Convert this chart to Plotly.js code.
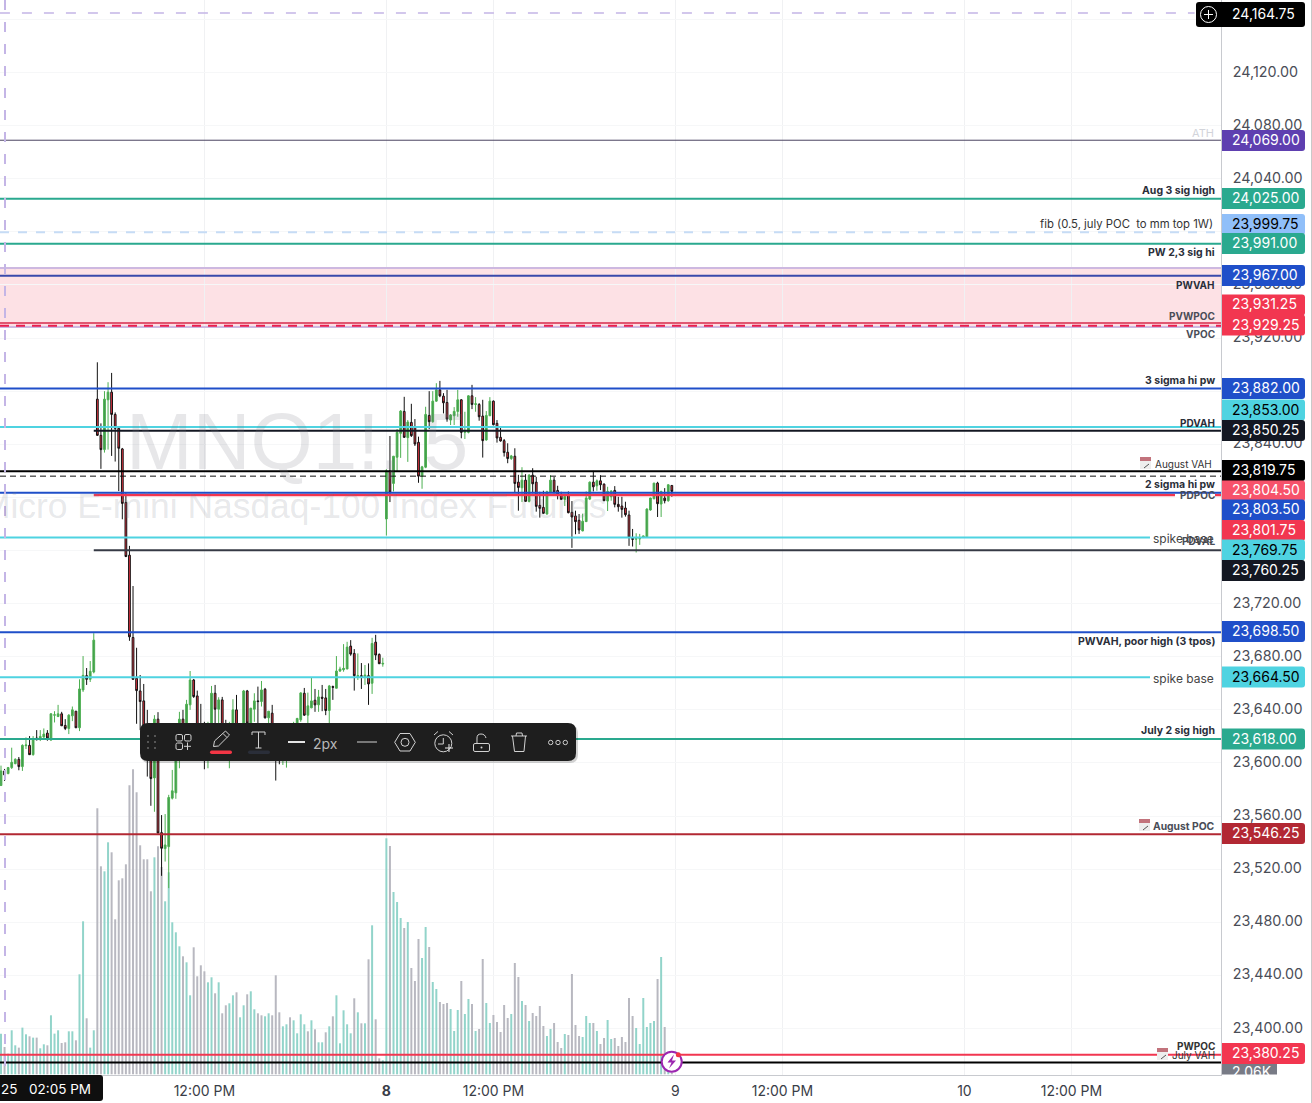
<!DOCTYPE html>
<html><head><meta charset="utf-8">
<script src="https://cdn.plot.ly/plotly-3.0.1.min.js"></script>
<style>html,body{margin:0;padding:0;background:#fff;overflow:hidden}#c{width:1312px;height:1103px}</style>
</head><body><div id="c"></div>
<script>
// ---------- data ----------
const openPrices=[23583,23594,23592,23596.5,23599.5,23602.75,23597.25,23613,23613.25,23606.25,
23618.75,23618,23619.5,23622.5,23617.25,23636,23635,23637,23628.25,23626,
23635.5,23639,23626.5,23655,23665.75,23663,23668.5,23874,23846.75,23836,
23873.5,23879.25,23862.5,23852,23836.5,23796.25,23756.5,23694.5,23663.75,23654.25,
23646.75,23628.5,23608.25,23588.75,23633,23547.5,23535.5,23537,23573.5,23577.5,
23606,23633,23628.5,23643.75,23662.5,23650.5,23628.5,23621,23613.5,23624.75,
23652.5,23640.5,23647.5,23624.75,23613.5,23618.75,23640,23617.25,23630,23654.25,
23630,23640.5,23646.75,23646.25,23655.5,23634,23637.5,23624.75,23621,23613.5,
23613.5,23624.75,23621,23621,23632.5,23652.5,23636,23641.5,23647.25,23643.75,
23649.5,23649,23639.5,23657.5,23656.25,23669.25,23670.25,23670.75,23688,23682.5,
23665,23665.75,23665,23665.75,23660,23691,23681.75,23674.5,23783.75,23820,
23810.5,23830.25,23848.25,23864.75,23845,23856.5,23852.75,23841.5,23816,23822.75,
23861.75,23857,23872.5,23881,23876.25,23871.5,23858.25,23861.5,23864.75,23873.5,
23849,23849,23876.5,23870,23870,23861.25,23843.25,23861.5,23872.5,23855.75,
23845.25,23842.75,23834,23829.25,23831,23811.5,23807.25,23813,23797,23816.75,
23811.5,23794,23792.5,23787.5,23804,23813,23805.25,23801.5,23798.5,23801.5,
23788.75,23786,23782.75,23774.75,23781.75,23798.75,23811.5,23808.75,23812.5,23810,
23797.25,23800.5,23805.25,23794.75,23793.5,23792,23786.75,23769,23768.5,23768.75,
23769.75,23770,23790.5,23799,23810.75,23795,23799.5,23797.5,23809];
const highPrices=[23598,23595.5,23597,23611.5,23603.5,23604.5,23614,23619.25,23620.25,23620.25,
23624.75,23624.75,23626,23624.75,23637.5,23639,23643.75,23638.5,23633,23636.75,
23642.5,23639,23663,23680.5,23671.5,23676.75,23697.75,23901.75,23855.75,23880,
23886.75,23893.75,23864,23852.5,23837.25,23803.25,23763.5,23733.25,23686.75,23666.25,
23659.5,23640,23621,23636,23638.25,23560.75,23561.5,23576,23594.75,23624.75,
23638.5,23640,23647.5,23669.25,23663.25,23654.5,23644.5,23631,23631,23658,
23658.75,23649.5,23649.75,23632.5,23631,23648,23651.25,23628.5,23655,23655,
23641.5,23652.5,23657.5,23661.75,23656.5,23639,23643.75,23628.5,23624.75,23626.25,
23624.75,23627,23631,23634,23653.25,23656.5,23653,23664.25,23655.75,23655,
23658.75,23655.75,23658.75,23658.25,23680.5,23672.5,23689.5,23691.25,23692.5,23685.75,
23682.5,23675.25,23673.75,23675,23694.25,23696.5,23682.5,23679.25,23821.25,23846.25,
23831.25,23851.5,23865.75,23875.75,23858.25,23870.5,23859,23845.75,23823.75,23868.25,
23880,23880,23886,23887.75,23878.5,23881,23862.75,23868,23881,23874,
23864.5,23877,23884.75,23875.5,23871,23873.5,23865,23875.5,23873,23858.25,
23852.5,23844,23840.75,23832,23837,23817,23822.75,23817.5,23817.5,23822,
23815.5,23804.25,23805,23805,23816.75,23815.5,23808.75,23804.25,23801,23804.5,
23797.25,23790,23787.5,23787.75,23804.5,23812,23820,23813.5,23816.75,23810.5,
23808,23805.5,23808.5,23800.5,23800.5,23796.75,23790,23776.25,23773,23772.5,
23771.25,23791.75,23799.75,23811,23811.75,23805,23807,23810,23809];
const lowPrices=[23583,23586.5,23591.5,23595.5,23599,23594.5,23594,23610.5,23606,23605.5,
23617,23616.5,23619,23616.75,23616.75,23630.5,23634.5,23628,23624.75,23621.75,
23631.5,23626.5,23624,23653.5,23658.75,23661,23667.5,23846.25,23821.5,23833.75,
23836,23831.25,23827,23804.75,23783.5,23755,23692,23662.5,23629.5,23624.75,
23624,23589.75,23567.75,23563.25,23547,23515,23525.75,23505.75,23572.5,23573,
23596,23608.25,23621,23640,23649,23613.5,23602.25,23595.25,23596,23609.75,
23630,23628.5,23613.5,23606,23596,23613.5,23608.25,23613.5,23628.5,23628.5,
23628,23631,23624.75,23642.5,23633.5,23628.5,23613.5,23586.75,23599,23598.5,
23596.5,23611.25,23615.75,23615.75,23631,23635.5,23630,23641.25,23638.5,23638.5,
23639,23636,23630,23647.5,23656.25,23668.5,23668.75,23670.75,23680.75,23654.5,
23662.5,23655.75,23658.75,23643.75,23652,23677.5,23674.5,23672.5,23771.25,23796.5,
23804.5,23819.5,23829.75,23844.75,23826.75,23845.5,23838.75,23811,23806.5,23822,
23851.5,23856.25,23872,23875.5,23863.25,23857,23854.5,23854.5,23860.75,23844.5,
23844,23848.25,23866.5,23864.5,23857.75,23830,23842.75,23861.25,23854.25,23841.25,
23842,23830.75,23825.75,23828.25,23803.5,23790,23796.5,23796.75,23796.25,23803,
23789.25,23784.75,23787.5,23787,23803.25,23803,23798.5,23798,23793.5,23788,
23762,23772.25,23772.5,23774.5,23781.5,23798,23804.5,23805,23805.5,23797.25,
23789.75,23797.5,23792.5,23789.25,23784.75,23785.5,23763.5,23763,23758.5,23764.25,
23769.5,23769.75,23790,23798.5,23785.25,23785.25,23795.5,23796.75,23800.5];
const closePrices=[23594,23591,23596.5,23600.5,23602.75,23597.25,23613.25,23613.5,23606.25,23618,
23617.5,23620,23621.75,23618.75,23637,23636.25,23637,23628,23626,23636,
23640,23626.5,23655.75,23666,23663,23669,23692.5,23846.75,23836,23874,
23879.25,23862.5,23852,23837,23795.5,23755.5,23695,23663,23654.5,23646.25,
23627,23606,23588.25,23633,23547.25,23535.75,23538.25,23574,23579,23613.5,
23633,23613.5,23644.25,23662.5,23650,23621,23613.5,23617.25,23628.5,23652.5,
23640.5,23647.5,23621,23617.25,23628.5,23640,23613.5,23624.75,23654.25,23630,
23641.25,23646.75,23646.25,23655,23634,23639,23621,23613.5,23613.5,23624.75,
23621,23617.25,23628.5,23633.5,23652.75,23636,23643,23646.75,23643.75,23649.75,
23648.75,23639.5,23658,23657,23669.25,23670.75,23671.25,23687.25,23682,23665.75,
23665.75,23665,23666.25,23659.5,23690,23681.25,23674.75,23675,23820,23804,
23831,23849,23865,23845.25,23856.75,23846.5,23840.25,23816,23823,23862.5,
23857,23872.5,23881,23876.5,23871.25,23859,23862,23864.75,23873.5,23849,
23850.25,23876.5,23870,23870.5,23860.75,23842.75,23861.75,23872.5,23854.75,23844.75,
23842.5,23833.75,23829.25,23831.25,23810.5,23807.5,23813,23797,23816.75,23810.25,
23793.25,23791.75,23788,23804.25,23813,23804,23801.75,23798.5,23800.75,23788.5,
23785.25,23781.75,23775.5,23782,23799.5,23811.5,23808,23812.5,23809.5,23797.5,
23804.5,23804.75,23794.75,23793,23791,23787,23769.75,23768.5,23769,23769,
23771,23791.25,23799.5,23810.75,23795.25,23804.5,23797.5,23809.5,23804.5];
// volume, in hundreds of contracts
const volume=[122,82,62,132,87,80,140,120,114,110,110,78,90,87,177,122,132,94,96,129,
129,102,300,459,168,80,132,798,624,609,696,666,465,582,588,630,867,915,846,687,
645,645,549,651,684,622,519,606,456,426,384,354,336,237,381,294,327,309,276,291,
243,276,183,207,213,237,246,171,207,240,249,195,183,177,174,183,177,297,186,144,
150,171,162,123,180,150,129,162,135,96,96,126,144,174,237,93,192,150,123,228,
186,153,153,345,447,165,48,42,708,685,547,517,469,439,457,319,280,406,349,442,
382,277,256,217,211,214,196,130,193,280,181,226,211,130,136,346,214,154,178,157,
127,208,169,181,334,292,220,208,160,184,175,205,145,115,136,154,97,79,121,118,
301,148,115,112,175,154,154,130,91,109,163,106,109,85,112,97,229,175,139,91,
229,142,154,160,286,352,142,8,5];
const volumeSides=['t','g','t','t','t','g','t','t','g','t','g','t','t','g','t','t','t','g','g','t',
't','g','t','t','g','t','t','g','g','t','t','g','g','g','g','g','g','g','g','g',
'g','g','g','t','g','g','t','t','t','t','t','g','t','t','g','g','g','g','t','t',
'g','t','g','g','t','t','g','t','t','g','t','t','g','g','t','t','g','g','g','t',
't','g','t','t','t','t','g','t','g','t','t','g','t','g','t','t','t','t','t','g',
't','g','t','g','t','g','g','t','t','g','t','t','t','g','t','g','g','g','t','t',
'g','t','t','g','g','g','t','t','t','g','t','t','g','t','g','g','t','t','g','g',
'g','g','g','t','g','g','t','g','t','g','g','g','g','t','t','g','g','g','t','g',
'g','g','g','t','t','t','g','t','g','g','t','t','g','g','g','g','g','g','t','t',
't','t','t','t','g','t','g','t','g'];
const barIndex=openPrices.map((_,i)=>i);
const tickBars=[57,108,138,189,219,270,300];
const tickLabels=['12:00 PM','<b>8</b>','12:00 PM','9','12:00 PM','10','12:00 PM'];
const priceLevels=[24164.75,24069,24025,23999.75,23991,23967,23931.25,23929.25,23882,23853,23850.25,23819.75,23804.5,23803.5,23801.75,23769.75,23760.25,23698.5,23664.5,23618,23546.25,23380.25];
const dashedHelperLevel=23816;
const julyVahLevel=23374.5;
const bandTop=23972.75, bandBottom=23928.25;
const lastVolumeTag='2.06K';
const cursorDate='25', cursorTime='02:05 PM';
const watermarkTitle='MNQ1!, 5', watermarkName='Micro E-mini Nasdaq-100 Index Futures';

// ---------- layout helpers ----------
const W=1221,H=1075,F='Inter, sans-serif';
const PX=x=>x/W, PY=y=>1-y/H;
function pth(s){ // pixel path -> paper path
  return s.replace(/(-?[\d.]+)[ ,](-?[\d.]+)/g,(m,a,b)=>PX(+a).toFixed(6)+','+PY(+b).toFixed(6));
}
function rr(x0,y0,x1,y1,rl,rr2){
  const a=rl,b=rr2;
  return `M${x0+a} ${y0} L${x1-b} ${y0} Q${x1} ${y0} ${x1} ${y0+b} L${x1} ${y1-b} Q${x1} ${y1} ${x1-b} ${y1} L${x0+a} ${y1} Q${x0} ${y1} ${x0} ${y1-a} L${x0} ${y0+a} Q${x0} ${y0} ${x0+a} ${y0} Z`;
}
const shapes=[],annotations=[];
function sh(path,fill,lc,lw,dash){shapes.push({type:'path',xref:'paper',yref:'paper',layer:'above',path:pth(path),fillcolor:fill||'rgba(0,0,0,0)',line:{color:lc||'rgba(0,0,0,0)',width:lw==null?0:lw,dash:dash||'solid'}});}
function circ(cx,cy,r,fill,lc,lw,dash){shapes.push({type:'circle',xref:'paper',yref:'paper',layer:'above',x0:PX(cx-r),x1:PX(cx+r),y0:PY(cy+r),y1:PY(cy-r),fillcolor:fill||'rgba(0,0,0,0)',line:{color:lc||'rgba(0,0,0,0)',width:lw==null?0:lw,dash:dash||'solid'}});}
function txt(t,x,y,o){o=o||{};annotations.push({text:t,xref:'paper',yref:'paper',x:PX(x),y:PY(y),xanchor:o.a||'right',yanchor:'middle',showarrow:false,borderpad:0,borderwidth:0,bgcolor:o.bg,width:o.w,height:o.h,font:{family:F,size:o.s||10,color:o.c||'#2a2e39',weight:o.b?700:400}});}
function level(p,color,width,dash,fromBar,toBar){
  const full=fromBar==null&&toBar==null;
  shapes.push({type:'line',layer:'above',xref:full?'paper':'x',yref:'y2',x0:full?0:(fromBar==null?-0.3:fromBar),x1:full?1:(toBar==null?341.9:toBar),y0:p,y1:p,line:{color,width,dash:dash||'solid'}});
}
function calendar(x,y){sh(`M${x} ${y} L${x+11} ${y} L${x+11} ${y+12} L${x} ${y+12} Z`,'#eeeeee');sh(`M${x} ${y} L${x+11} ${y} L${x+11} ${y+4} L${x} ${y+4} Z`,'#c2737c');sh(`M${x+4} ${y+11} L${x+9} ${y+7}`,null,'#555',1);}

// band
shapes.push({type:'rect',layer:'below',xref:'paper',yref:'y2',x0:0,x1:1,y0:bandBottom,y1:bandTop,fillcolor:'#fde1e5',line:{width:0}});
level(bandTop,'#cdb8e0',2); level(bandBottom,'#cdb8e0',2);
// levels
const BLUE='#1f4fc9',CYAN='#4fd3e1',TEAL='#2aa98f',DARK='#131722',RED='#f23650';
level(24069,'#4a4360',1);
level(24025,TEAL,2);
level(23999.75,'#c6dcf5',2,'9px,9px');
level(23991,TEAL,2);
level(23967,'#3949ab',2);
level(23931.25,'#d6294a',1.5);
level(23929.25,'#e91e4e',2,'9px,7px');
level(23882,BLUE,2);
level(23853,CYAN,2);
level(23850.25,DARK,2,null,26);
level(23819.75,'#000',2);
level(dashedHelperLevel,'#111',1,'6px,4px');
level(23801.75,RED,2.5,null,26);
sh('M1175 493.6 L1215 493.6 L1215 497.5 L1175 497.5 Z','#fff');
level(23803.5,BLUE,2);
level(23769.75,CYAN,2,null,null,322);
level(23760.25,'#363a45',2,null,26);
level(23698.5,BLUE,2);
level(23664.5,CYAN,2,null,null,322);
level(23618,TEAL,2);
level(23546.25,'#b22833',2);
level(23380.25,RED,2);
level(julyVahLevel,'#000',2);
// crosshair
sh('M5 0 L5 1075',null,'#c4b5e6',2,'10px,12px');
level(24164.75,'#c4b5e6',1.5,'10px,12px',null,334.5);

// line labels
const LB=10.5;
txt('ATH',1214,133,{s:11,c:'#d2d4da'});
txt('Aug 3 sig high',1215,190.5,{b:1,s:LB});
txt('fib (0.5, july POC&nbsp; to mm top 1W)',1213,224,{s:11.3,c:'#333'});
txt('PW 2,3 sig hi',1215,252.5,{b:1,s:LB});
txt('PWVAH',1215,284.5,{b:1});
txt('PVWPOC',1215,315.5,{b:1,c:'#4a4d57'});
txt('VPOC',1215,334.5,{b:1,c:'#4a4d57'});
txt('3 sigma hi pw',1215,380.5,{b:1,s:LB});
txt('PDVAH',1215,422.5,{b:1});
calendar(1140,457);
txt('August VAH',1212,464,{s:10,c:'#333'});
txt('2 sigma hi pw',1215,484.5,{b:1,s:LB});
txt('PDPOC',1215,495.5,{b:1,c:'#4a4d57'});
txt('PDVAL',1215,541,{b:1,c:'#4a4d57'});
txt('spike base',1214,538.5,{s:12,c:'#444'});
txt('PWVAH, poor high (3 tpos)',1215,641,{b:1,s:LB});
txt('spike base',1214,678,{s:12,c:'#444'});
txt('July 2 sig high',1215,730.5,{b:1,s:LB});
calendar(1139,819);
txt('August POC',1215,826,{b:1,s:10.3,c:'#4a4d57'});
txt('PWPOC',1215,1045.5,{b:1,c:'#333'});
calendar(1157,1048);
txt('July VAH',1215,1054.5,{s:10,c:'#333'});

// watermark
txt(watermarkTitle,297,441,{a:'center',s:80,c:'rgba(120,123,134,0.18)'});
annotations[annotations.length-1].font.family='Liberation Sans, sans-serif';
txt(watermarkName,294,506,{a:'center',s:35.4,c:'rgba(120,123,134,0.18)'});
annotations[annotations.length-1].font.family='Liberation Sans, sans-serif';

// price tags
const fmt=p=>p.toLocaleString('en-US',{minimumFractionDigits:2,maximumFractionDigits:2});
const tagCentres=[14.5,140.5,198.5,224.5,243.5,275.5,305,325,388.5,410,430.5,470.5,491,510,530.5,550,570.5,631.5,677,739,833.5,1053.5];
const tagFills=['#000',"#5e3fb0",TEAL,'#90bff9',TEAL,BLUE,RED,RED,BLUE,CYAN,DARK,'#000','#f7526a',BLUE,RED,CYAN,DARK,BLUE,CYAN,TEAL,'#b22833',RED];
const tagInk=['#fff','#fff','#fff','#000','#fff','#fff','#fff','#fff','#fff','#000','#fff','#fff','#fff','#fff','#fff','#000','#fff','#fff','#000','#fff','#fff','#fff'];
priceLevels.forEach((p,i)=>{
  const c=tagCentres[i],h=i===0?12.5:10.5;
  sh(rr(1222,c-h,1305,c+h,0,3),tagFills[i]);
  txt(fmt(p),1231.5,c-1,{a:'left',s:14,c:tagInk[i]});
});
// add-alert button
sh(rr(1196,2,1222,27,3,0),'#000');
circ(1208.5,14.5,8,null,'#fff',1);
sh('M1208.5 10 L1208.5 19 M1204 14.5 L1213 14.5',null,'#fff',1);
// volume tag (clipped by the axis)
sh(rr(1222,1064,1277,1074.5,0,0),'#787b86');
txt(lastVolumeTag,1232,1071.5,{a:'left',s:14,c:'#fff'});
txt('&nbsp;',1266,1089,{a:'center',bg:'#fff',w:89,h:28});
// settings icon
sh('M1257 1090 L1261.5 1082.5 L1270.5 1082.5 L1275 1090 L1270.5 1097.5 L1261.5 1097.5 Z',null,'#131722',1.2);
circ(1266,1090,2.5,null,'#131722',1.2);
// cursor time tag
sh(rr(-4,1075,103,1101,3,3),'#0f0f0f');
txt(cursorDate,1,1089,{a:'left',s:13.5,c:'#fff'});
txt(cursorTime,29,1089,{a:'left',s:13.5,c:'#fff'});
// replay bolt
circ(671.7,1061.7,10,'#fff','#9c27b0',2);
sh('M674 1054.5 L667.5 1062.5 L671.5 1062.5 L669 1068.5 L676 1060.5 L672 1060.5 Z','#9c27b0');
circ(678.3,1054.7,2.5,'#f23645');

// floating toolbar
sh(rr(141,725,578,763,8,8),'rgba(0,0,0,0.18)');
sh(rr(140,723,576,761,8,8),'#1e1e1e');
[[148,736],[155,736],[148,742],[155,742],[148,748],[155,748]].forEach(d=>sh(`M${d[0]-1} ${d[1]-1} L${d[0]+1} ${d[1]-1} L${d[0]+1} ${d[1]+1} L${d[0]-1} ${d[1]+1} Z`,'#555'));
const IC='#d2d2d2';
sh(rr(176,734.5,182.5,741,1.5,1.5),null,IC,1);
sh(rr(184.5,734.5,191,741,1.5,1.5),null,IC,1);
sh(rr(176,743,182.5,749.5,1.5,1.5),null,IC,1);
sh('M187.5 742.5 L187.5 750 M184 746.3 L191 746.3',null,IC,1);
sh('M213.5 746.5 L214.5 741 L225.5 731 L229.5 735 L218.5 746 Z M223 733.5 L227 737.5',null,IC,1);
sh(rr(210,750.5,232,754,1.7,1.7),'#f23645');
sh('M252 732 L265 732 M252 732 L252 735 M265 732 L265 735 M258.5 732 L258.5 748 M255.5 748 L261.5 748',null,IC,1);
sh(rr(248,750.5,270,754,1.7,1.7),'#2a2e39');
sh('M288 742 L305 742',null,'#e4e4e4',2);
txt('2px',313,743,{a:'left',s:14,c:'#b8b8b8'});
sh('M357 742 L377 742',null,IC,1);
sh('M394.7 742.3 L400 733.5 L410 733.5 L415.3 742.3 L410 751 L400 751 Z',null,IC,1);
circ(405,742.3,4,null,IC,1);
circ(443.3,743.3,8.5,null,IC,1);
sh('M443.3 738 L443.3 744 L438 744 M434 735 L438 731.5 M449 731.5 L453 735',null,IC,1);
sh('M449 744 L449 752 M445 748 L453 748',null,'#eaeaea',1);
sh(rr(473.5,743.5,489.5,751.5,1.5,1.5),null,IC,1);
sh('M477 743.5 L477 738 Q477 734 481 734 Q485 734 486 738',null,IC,1);
circ(481.5,747.5,1,IC);
sh('M511 736 L527 736 M512.5 736 L514.5 751.5 L524 751.5 L525.5 736 M516 736 L516.5 733 L522 733 L522.5 736',null,IC,1);
[550.7,558,565.3].forEach(x=>circ(x,742.5,2.2,null,'#cfcfcf',1));
// right-edge hairline
sh('M1311.5 0 L1311.5 1103',null,'#c9c9c9',1);

// ---------- traces ----------
const volTrace={type:'bar',x:barIndex,y:volume,yaxis:'y',xaxis:'x',width:0.56,
  marker:{color:volumeSides.map(s=>s==='t'?'#92d4ca':'#b8b8c0'),line:{width:0}},hoverinfo:'skip'};
const candleTrace={type:'candlestick',x:barIndex,open:openPrices,high:highPrices,low:lowPrices,close:closePrices,
  xaxis:'x',yaxis:'y2',whiskerwidth:0,
  increasing:{line:{color:'#4caf50',width:1},fillcolor:'#43994d'},
  decreasing:{line:{color:'#111111',width:1},fillcolor:'#f23645'},hoverinfo:'skip'};

const layout={width:1312,height:1103,margin:{l:0,r:91,t:0,b:28},paper_bgcolor:'#fff',plot_bgcolor:'#fff',
  showlegend:false,boxgap:0.3,hovermode:false,
  xaxis:{range:[-0.28,341.9],tickmode:'array',tickvals:tickBars,ticktext:tickLabels,rangeslider:{visible:false},
    showgrid:true,gridcolor:'#f0f1f3',gridwidth:1,showline:true,linecolor:'#c8cacf',linewidth:1,zeroline:false,
    ticks:'outside',ticklen:3,tickcolor:'rgba(0,0,0,0)',tickfont:{family:F,size:14,color:'#3a3d47'}},
  yaxis:{range:[-2.1,3222.9],visible:false,fixedrange:true},
  yaxis2:{range:[23365,24174.6],overlaying:'y',side:'right',anchor:'x',tickmode:'linear',tick0:24000,dtick:40,tickformat:',.2f',
    showgrid:true,gridcolor:'#f6f7f8',gridwidth:1,showline:true,linecolor:'#c8cacf',linewidth:1,zeroline:false,
    ticks:'outside',ticklen:8,ticklabelshift:-1,tickcolor:'rgba(0,0,0,0)',tickfont:{family:F,size:14.3,color:'#4a4d57'}},
  shapes,annotations};
Plotly.newPlot('c',[volTrace,candleTrace],layout,{displayModeBar:false,staticPlot:true});
</script></body></html>
